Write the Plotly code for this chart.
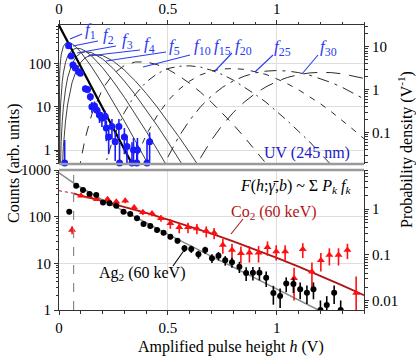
import plotly.graph_objects as go

# ---------------- data ----------------
# top panel: f_k curves (probability density, V^-1) vs pulse height h (V)
f1_h = [0.0, 0.35]
f1_y = [31.9, 0.0135]

f2_h = [0.00002, 0.001, 0.003, 0.005, 0.01, 0.02, 0.03, 0.04, 0.05, 0.06, 0.08, 0.1,
        0.12, 0.15, 0.2, 0.25, 0.3, 0.35, 0.4, 0.45]
f2_y = [0.0166, 0.81, 2.31, 3.67, 6.52, 10.3, 12.1, 12.7, 12.5, 11.8, 9.71, 7.52,
        5.57, 3.40, 1.36, 0.513, 0.185, 0.0652, 0.0224, 0.0076]

f3_h = [0.001, 0.002, 0.003, 0.005, 0.0075, 0.01, 0.015, 0.02, 0.03, 0.04, 0.06, 0.08,
        0.1, 0.12, 0.15, 0.2, 0.25, 0.3, 0.35, 0.4, 0.45, 0.5, 0.55]
f3_y = [0.0097, 0.0379, 0.0834, 0.221, 0.468, 0.783, 1.56, 2.47, 4.36, 6.10, 8.49, 9.33,
        9.04, 8.04, 6.12, 3.27, 1.54, 0.668, 0.274, 0.108, 0.0411, 0.0153, 0.0056]

f4_h = [0.005, 0.0075, 0.01, 0.015, 0.02, 0.03, 0.04, 0.06, 0.08, 0.1, 0.12, 0.15,
        0.2, 0.25, 0.3, 0.35, 0.4, 0.45, 0.5, 0.55, 0.6]
f4_y = [0.0088, 0.0281, 0.0627, 0.187, 0.394, 1.04, 1.95, 4.07, 5.97, 7.23, 7.71, 7.35,
        5.24, 3.08, 1.60, 0.767, 0.345, 0.148, 0.0611, 0.0244, 0.0096]

f5_h = [0.01, 0.015, 0.02, 0.03, 0.04, 0.06, 0.08, 0.1, 0.12, 0.15, 0.2, 0.25,
        0.3, 0.35, 0.4, 0.45, 0.5, 0.55, 0.6, 0.65, 0.7]
f5_y = [0.0038, 0.0169, 0.0473, 0.188, 0.468, 1.47, 2.86, 4.34, 5.55, 6.61, 6.28, 4.62,
        2.88, 1.61, 0.828, 0.399, 0.183, 0.0805, 0.0344, 0.0143, 0.0058]

f10_h = [0.08, 0.1, 0.12, 0.15, 0.2, 0.25, 0.3, 0.35, 0.4, 0.45, 0.5, 0.55,
         0.6, 0.65, 0.7, 0.75, 0.8, 0.85, 0.9, 0.95, 1.0]
f10_y = [0.0049, 0.0228, 0.0724, 0.264, 1.06, 2.38, 3.68, 4.45, 4.46, 3.86, 3.01, 2.12,
         1.41, 0.875, 0.512, 0.287, 0.155, 0.0796, 0.0403, 0.0200, 0.0095]

f15_h = [0.2, 0.25, 0.3, 0.35, 0.4, 0.45, 0.5, 0.55, 0.6, 0.65, 0.7, 0.75,
         0.8, 0.85, 0.9, 0.95, 1.0, 1.05, 1.1, 1.15, 1.2, 1.25, 1.3]
f15_y = [0.0112, 0.0771, 0.296, 0.774, 1.51, 2.36, 3.13, 3.53, 3.62, 3.37, 2.85, 2.26,
         1.68, 1.17, 0.787, 0.514, 0.315, 0.187, 0.107, 0.0615, 0.0330, 0.0178, 0.0093]

f20_h = [0.3, 0.35, 0.4, 0.45, 0.5, 0.55, 0.6, 0.65, 0.7, 0.75, 0.8, 0.85,
         0.9, 0.95, 1.0, 1.05, 1.1, 1.15, 1.2, 1.25, 1.3, 1.35, 1.4]
f20_y = [0.0041, 0.0232, 0.0883, 0.248, 0.557, 1.01, 1.60, 2.23, 2.73, 3.05, 3.13, 2.99,
         2.64, 2.28, 1.79, 1.37, 0.998, 0.698, 0.472, 0.308, 0.195, 0.119, 0.0723]

f25_h = [0.45, 0.5, 0.55, 0.6, 0.65, 0.7, 0.75, 0.8, 0.85, 0.9, 0.95, 1.0,
         1.05, 1.1, 1.15, 1.2, 1.25, 1.3, 1.35, 1.4]
f25_y = [0.0071, 0.0272, 0.0809, 0.196, 0.404, 0.719, 1.14, 1.61, 2.07, 2.47, 2.72, 2.81,
         2.73, 2.51, 2.20, 1.83, 1.47, 1.14, 0.847, 0.611]

f30_h = [0.6, 0.65, 0.7, 0.75, 0.8, 0.85, 0.9, 0.95, 1.0, 1.05, 1.1, 1.15,
         1.2, 1.25, 1.3, 1.35, 1.4]
f30_y = [0.0085, 0.0261, 0.0676, 0.151, 0.295, 0.514, 0.813, 1.17, 1.57, 1.95, 2.25, 2.47,
         2.55, 2.51, 2.36, 2.12, 1.84]

# top panel: UV (245 nm) counts
uv_h = [0.044, 0.056, 0.064, 0.075, 0.090, 0.098, 0.121, 0.131, 0.144, 0.151, 0.163, 0.174,
        0.186, 0.197, 0.212, 0.217, 0.228, 0.243, 0.258, 0.275, 0.300, 0.312, 0.342, 0.360, 0.416]
uv_counts = [255, 147, 91, 78, 64, 59, 26, 25, 17, 10, 10.3, 8.3,
             6.4, 5.4, 5.9, 3.2, 2.0, 3.5, 1.56, 3.5, 2.0, 1.2, 1.0, 1.0, 1.56]
uv_err = [25, 15, 10, 9, 8, 7, 4.5, 4.5, 3.5, 2.8, 2.8, 2.5,
          2.2, 2.0, 2.1, 1.6, 1.2, 1.7, 1.0, 1.7, 1.2, 0.9, 0.9, 0.9, 1.0]
# zero-count bins (drawn on the lower edge)
uv0_h = [0.026, 0.278, 0.335, 0.357, 0.404]
uv0_counts = [0.5, 0.5, 0.5, 0.5, 0.5]
uv0_err = [1.2, 1.0, 1.0, 1.0, 1.0]

# bottom panel: Ag2 (60 keV)
ag_h = [0.047, 0.079, 0.110, 0.140, 0.171, 0.202, 0.232, 0.263, 0.296, 0.327, 0.358, 0.388,
        0.419, 0.450, 0.480, 0.511, 0.544, 0.576, 0.607, 0.640, 0.671, 0.702, 0.732, 0.763,
        0.794, 0.828, 0.859, 0.890, 0.920, 0.951, 0.984, 1.015, 1.043, 1.076, 1.107, 1.138,
        1.168, 1.200, 1.229, 1.263, 1.293]
ag_counts = [128, 461, 373, 306, 292, 200, 195, 172, 128, 114, 92, 69.5,
             63, 52, 45, 37, 30.5, 21, 20.3, 15.6, 19.3, 12.9, 14.5, 11.6,
             10.6, 8.5, 6.2, 6.3, 6.3, 4.9, 2.3, 2.0, 3.7, 3.6, 2.8, 2.35,
             2.8, 1.0, 1.28, 2.35, 1.0]
ag_err = [8, 15, 13, 12, 12, 10, 10, 9, 8, 7, 7, 6,
          6, 5, 5, 4.5, 4, 3.5, 3.5, 3, 3.5, 2.7, 3, 2.7,
          2.6, 2.3, 2.0, 2.0, 2.0, 1.8, 1.0, 0.9, 1.3, 1.3, 1.1, 1.0,
          1.1, 0.6, 0.7, 1.0, 0.6]
ag_fit_h = [0.0, 0.079, 0.2, 0.3, 0.4, 0.5, 0.6, 0.7, 0.8, 0.9, 1.0, 1.1, 1.2]
ag_fit_y = [871, 479, 229, 132, 74, 41.7, 24, 14.1, 8.3, 4.8, 2.8, 1.62, 0.95]

# bottom panel: Co2 (60 keV)
co_h = [0.060, 0.101, 0.140, 0.174, 0.223, 0.263, 0.304, 0.345, 0.385, 0.427, 0.468, 0.511,
        0.552, 0.592, 0.633, 0.676, 0.712, 0.752, 0.794, 0.835, 0.874, 0.916, 0.957, 0.997,
        1.038, 1.079, 1.119, 1.161, 1.202, 1.241, 1.283, 1.324, 1.364]
co_counts = [52, 282, 269, 236, 236, 209, 220, 158, 124, 117, 92, 72,
             59, 59, 56, 49, 45, 24.6, 19.3, 16.4, 16.9, 16.9, 22, 18,
             18, 4.8, 20, 6.6, 11.7, 15, 15, 19.3, 2.3]
co_err = [10, 22, 22, 20, 20, 19, 25, 17, 15, 15, 14, 17,
          15, 15, 14, 13, 12, 8.5, 7, 6.5, 6.5, 6.5, 7.5, 6.5,
          6.5, 3.2, 7, 3.8, 5, 6, 6, 7, 2.9]
co_fit_h = [0.067, 0.1, 0.2, 0.3, 0.4, 0.5, 0.6, 0.7, 0.8, 0.9, 1.0, 1.1, 1.2, 1.3, 1.4]
co_fit_y = [317, 281, 216, 162, 120, 86.7, 61.7, 43.1, 29.5, 19.9, 13.1, 8.5, 5.42, 3.38, 2.07]
co_ext_h = [0.0, 0.067]
co_ext_y = [360, 317]

threshold_h = 0.067

# ---------------- layout ----------------
W, H = 416, 361
# plot area in window pixels
PL, PR, PT, PB = 59, 364, 25, 310
ML, MR, MT, MB = PL, W - PR, PT, H - PB

SERIF = "Liberation Serif"
BLUE = "#1a1aff"
LBLUE = "#2a3cf0"
RED = "#ff1010"
DRED = "#b01515"
CURVE = "#2a2a2a"


def pp(x, y):
    """window pixel -> paper coordinates"""
    return (x - PL) / (PR - PL), (PB - y) / (PB - PT)


top_dom = [pp(0, 164)[1], 1.0]
bot_dom = [0.0, pp(0, 170)[1]]

fig = go.Figure()

curve_style = [
    (f2_h, f2_y, "solid", 0.9),
    (f3_h, f3_y, "solid", 0.9),
    (f4_h, f4_y, "solid", 0.9),
    (f5_h, f5_y, "solid", 0.9),
    (f10_h, f10_y, "10px,8px", 1.0),
    (f15_h, f15_y, "9px,5px,2px,5px", 1.0),
    (f20_h, f20_y, "6px,7px", 1.0),
    (f25_h, f25_y, "12px,6px,3px,6px", 1.0),
    (f30_h, f30_y, "14px,9px", 1.0),
]
for hx, dy, dash, w in curve_style:
    fig.add_trace(go.Scatter(x=hx, y=dy, mode="lines", xaxis="x2", yaxis="y3",
                             line=dict(color=CURVE, width=w, dash=dash),
                             showlegend=False, hoverinfo="skip"))
fig.add_trace(go.Scatter(x=f1_h, y=f1_y, mode="lines", xaxis="x2", yaxis="y3",
                         line=dict(color="black", width=2.2), showlegend=False))

# UV data on the counts axis (overlay)
fig.add_trace(go.Scatter(x=uv_h, y=uv_counts, mode="markers", xaxis="x2", yaxis="y4",
                         marker=dict(color=BLUE, size=7),
                         error_y=dict(type="data", array=uv_err, color=BLUE, thickness=1.6, width=0),
                         showlegend=False))
fig.add_trace(go.Scatter(x=uv0_h, y=uv0_counts, mode="markers", xaxis="x2", yaxis="y4",
                         marker=dict(color=BLUE, size=7),
                         error_y=dict(type="data", array=uv0_err, arrayminus=[0] * len(uv0_err),
                                      color=BLUE, thickness=1.6, width=0),
                         showlegend=False, cliponaxis=False))

# bottom panel
fig.add_trace(go.Scatter(x=ag_fit_h, y=ag_fit_y, mode="lines", xaxis="x", yaxis="y",
                         line=dict(color="#8a8a8a", width=1.6), showlegend=False))
fig.add_trace(go.Scatter(x=co_ext_h, y=co_ext_y, mode="lines", xaxis="x", yaxis="y",
                         line=dict(color=DRED, width=1, dash="dot"), showlegend=False))
fig.add_trace(go.Scatter(x=co_fit_h, y=co_fit_y, mode="lines", xaxis="x", yaxis="y",
                         line=dict(color=DRED, width=1.8), showlegend=False))
fig.add_trace(go.Scatter(x=co_h, y=co_counts, mode="markers", xaxis="x", yaxis="y",
                         marker=dict(color=RED, size=7, symbol="triangle-up"),
                         error_y=dict(type="data", array=co_err, color=RED, thickness=1.6, width=0),
                         showlegend=False))
fig.add_trace(go.Scatter(x=ag_h, y=ag_counts, mode="markers", xaxis="x", yaxis="y",
                         marker=dict(color="black", size=6),
                         error_y=dict(type="data", array=ag_err, color="black", thickness=1.6, width=0),
                         showlegend=False))
# keeps the right-hand density axis of the lower panel alive
fig.add_trace(go.Scatter(x=[None], y=[None], xaxis="x", yaxis="y2", showlegend=False))

tick_font = dict(family=SERIF, size=15, color="black")
minor_x = dict(ticks="outside", ticklen=2.5, dtick=0.1, tick0=0, tickcolor="#333", showgrid=False)


def log_minor(lo, hi):
    return dict(ticks="outside", ticklen=2.5, tickcolor="#333", showgrid=False,
                tickvals=[k * 10 ** e for e in range(lo, hi) for k in range(2, 10)])


xcommon = dict(range=[0, 1.4], tickvals=[0, 0.5, 1], ticktext=["0", "0.5", "1"],
               ticks="outside", ticklen=4, tickcolor="#333", showline=True, linecolor="#333",
               linewidth=1, showgrid=True, gridcolor="#dedede", gridwidth=1, zeroline=False,
               tickfont=tick_font, minor=minor_x, automargin=False)
ycommon = dict(type="log", ticks="outside", ticklen=4, tickcolor="#333", showline=True,
               linecolor="#333", linewidth=1, zeroline=False, tickfont=tick_font,
               automargin=False)

fig.update_layout(
    width=W, height=H, autosize=False,
    margin=dict(l=ML, r=MR, t=MT, b=MB, autoexpand=False),
    paper_bgcolor="white", plot_bgcolor="white",
    font=dict(family=SERIF, size=16, color="black"),
    xaxis=dict(domain=[0, 1], anchor="y", side="bottom", **xcommon),
    xaxis2=dict(domain=[0, 1], anchor="y3", side="top", **xcommon),
    yaxis=dict(domain=bot_dom, anchor="x", side="left", range=[0, 3],
               tickvals=[1, 10, 100, 1000], ticktext=["1", "10", "100", "1000"],
               showgrid=True, gridcolor="#dedede", minor=log_minor(0, 3), **ycommon),
    yaxis2=dict(overlaying="y", anchor="x", side="right", range=[-2.2, 0.85],
                tickvals=[0.01, 0.1, 1], ticktext=["0.01", "0.1", "1"],
                showgrid=False, minor=log_minor(-3, 1), **ycommon),
    yaxis3=dict(domain=top_dom, anchor="x2", side="right", range=[-1.73, 1.51],
                tickvals=[0.1, 1, 10], ticktext=["0.1", "1", "10"],
                showgrid=False, minor=log_minor(-2, 2), **ycommon),
    yaxis4=dict(overlaying="y3", anchor="x2", side="left", range=[-0.323, 2.884],
                tickvals=[1, 10, 100], ticktext=["1", "10", "100"],
                showgrid=True, gridcolor="#dedede", minor=log_minor(-1, 3), **ycommon),
)

shapes = []
# thick grey inner frame edges
shapes.append(dict(type="line", xref="x2 domain", yref="y3 domain", x0=0, x1=1, y0=0, y1=0,
                   line=dict(color="#9a9a9a", width=2.5)))
shapes.append(dict(type="line", xref="x domain", yref="y domain", x0=0, x1=1, y0=1, y1=1,
                   line=dict(color="#9a9a9a", width=2.5)))
# threshold
shapes.append(dict(type="line", xref="x", yref="y domain", x0=threshold_h, x1=threshold_h,
                   y0=0, y1=1, line=dict(color="#8a8a8a", width=1.2, dash="dash")))

# label pointers (window pixel positions)
pointers_blue = [((70, 39), (82, 34)), ((73, 46), (98, 41)), ((77, 53), (116, 46)),
                 ((88, 56), (140, 50)), ((106, 61), (166, 52)), ((143, 67), (190, 55)),
                 ((215, 71), (232, 53)), ((255, 72), (273, 55)), ((302, 74), (318, 55))]
for (a, b) in pointers_blue:
    x0, y0 = pp(*a)
    x1, y1 = pp(*b)
    shapes.append(dict(type="line", xref="paper", yref="paper", x0=x0, y0=y0, x1=x1, y1=y1,
                       line=dict(color=LBLUE, width=1.1)))
for (a, b, c) in [((243, 219), (231, 234), DRED), ((173, 266), (185, 249), "black")]:
    x0, y0 = pp(*a)
    x1, y1 = pp(*b)
    shapes.append(dict(type="line", xref="paper", yref="paper", x0=x0, y0=y0, x1=x1, y1=y1,
                       line=dict(color=c, width=1.1)))
fig.update_layout(shapes=shapes)

annotations = []


def label(text, xp, yp, color="black", size=16, angle=0):
    x, y = pp(xp, yp)
    annotations.append(dict(xref="paper", yref="paper", x=x, y=y, xanchor="center",
                            yanchor="middle", showarrow=False, text=text, textangle=angle,
                            font=dict(family=SERIF, size=size, color=color)))


f_labels = [("1", 90, 31), ("2", 108, 36), ("3", 127, 41), ("4", 149, 45), ("5", 174, 47),
            ("10", 202, 47), ("15", 222, 47), ("20", 243, 47), ("25", 282, 48), ("30", 328, 48)]
for sub, xp, yp in f_labels:
    label(f"<i>f</i><sub>{sub}</sub>", xp, yp, color=LBLUE, size=17)

label("UV (245 nm)", 307, 153, color="#2020c8")
label("<i>F</i>(<i>h</i>;<i>γ̄</i>,<i>b</i>) ~ Σ <i>P</i><sub><i>k</i></sub> <i>f</i><sub><i>k</i></sub>",
      295, 186)
label("Co<sub>2</sub> (60 keV)", 274, 212, color=DRED)
label("Ag<sub>2</sub> (60 keV)", 142, 273)
label("Counts (arb. units)", 14, 163, angle=-90)
label("Probability density (V<sup>-1</sup>)", 405, 150, angle=-90)
label("Amplified pulse height <i>h</i> (V)", 231, 347)
fig.update_layout(annotations=annotations)

# drop the default 8 px page margin so the figure fills the window exactly
fig.write_html("out.html", config={"displayModeBar": False},
               post_script="document.body.style.margin = '0px';")
